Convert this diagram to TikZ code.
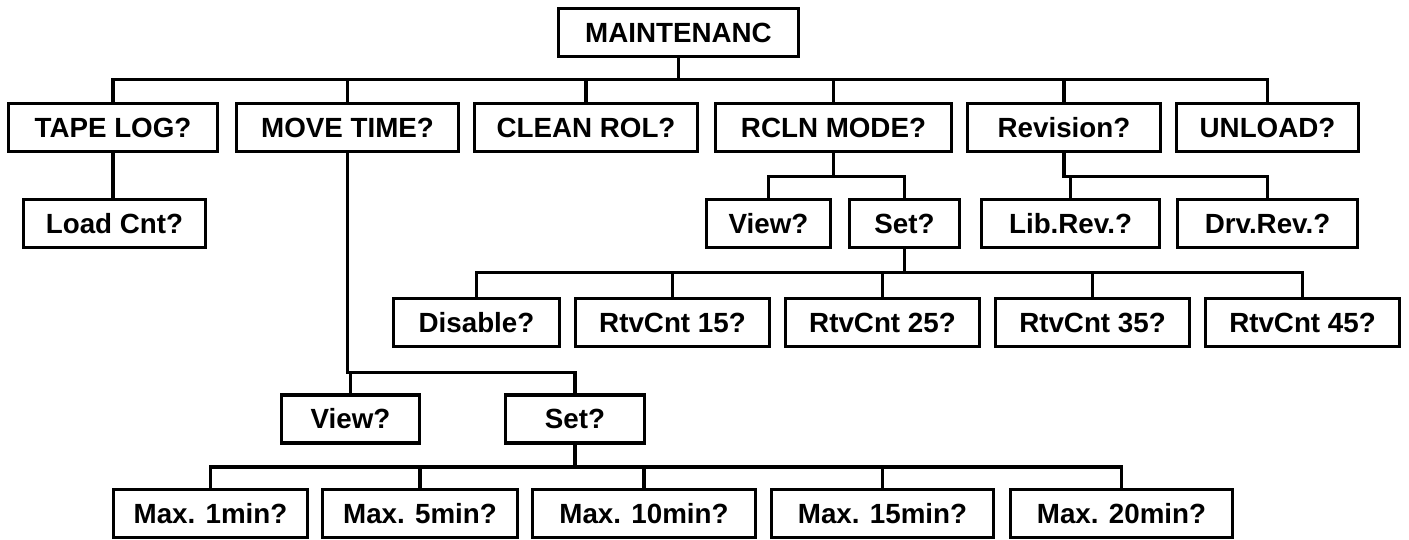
\documentclass[tikz,border=0pt]{standalone}
\usepackage{fontspec}
\setmainfont{Liberation Sans}
\usepackage{tikz}
\tikzset{menubox/.style={draw,line width=2.2pt,inner sep=0pt,text height=11.3pt,text depth=0pt,minimum height=48*0.02cm,minimum width=#1*0.02cm,font=\bfseries\fontsize{15.8}{18}\selectfont}}
\tikzset{link/.style={line width=1.9pt}}

\begin{document}
\begin{tikzpicture}[x=0.02cm,y=-0.02cm]
    \useasboundingbox (0,0) rectangle (1409,540);
    % top level
    \node[menubox=240] (main) at (678.5,32.5) {MAINTENANC};
    \node[menubox=209] (tape) at (113,127.5) {TAPE LOG?};
    \node[menubox=222] (move) at (347.5,127.5) {MOVE TIME?};
    \node[menubox=223] (clean) at (586,127.5) {CLEAN ROL?};
    \node[menubox=236] (rcln) at (833.5,127.5) {RCLN MODE?};
    \node[menubox=193] (rev) at (1064,127.5) {Revision?};
    \node[menubox=182] (unload) at (1267.5,127.5) {UNLOAD?};
    % second level
    \node[menubox=182] (load) at (114.5,223.5) {Load Cnt?};
    \node[menubox=124] (rview) at (768.5,223.5) {View?};
    \node[menubox=110] (rset) at (904.5,223.5) {Set?};
    \node[menubox=178] (lib) at (1070.5,223.5) {Lib.Rev.?};
    \node[menubox=180] (drv) at (1267.5,223.5) {Drv.Rev.?};
    % retry counts
    \node[menubox=166] (dis) at (476.5,322.5) {Disable?};
    \node[menubox=194] (rc15) at (672.5,322.5) {RtvCnt 15?};
    \node[menubox=194] (rc25) at (882.5,322.5) {RtvCnt 25?};
    \node[menubox=194] (rc35) at (1092.5,322.5) {RtvCnt 35?};
    \node[menubox=194] (rc45) at (1302.5,322.5) {RtvCnt 45?};
    % move time
    \node[menubox=138] (mview) at (350.5,419) {View?};
    \node[menubox=139] (mset) at (575,419) {Set?};
    \node[menubox=194] (m1) at (210.5,513.5) {Max. 1min?};
    \node[menubox=195] (m5) at (420,513.5) {Max. 5min?};
    \node[menubox=223] (m10) at (644,513.5) {Max. 10min?};
    \node[menubox=222] (m15) at (882.5,513.5) {Max. 15min?};
    \node[menubox=222] (m20) at (1121.5,513.5) {Max. 20min?};

    \foreach \c in {tape,move,clean,rcln,rev,unload} \draw[link] (main.south) -- ++(0,21) -| (\c.north);
    \draw[link] (tape.south) -- (tape.south |- load.north);
    \foreach \c in {rview,rset} \draw[link] (rcln.south) -- ++(0,23) -| (\c.north);
    \foreach \c in {lib,drv} \draw[link] (rev.south) -- ++(0,23) -| (\c.north);
    \foreach \c in {dis,rc15,rc25,rc35,rc45} \draw[link] (rset.south) -- ++(0,23) -| (\c.north);
    \foreach \c in {mview,mset} \draw[link] (move.south) -- ++(0,219) -| (\c.north);
    \foreach \c in {m1,m5,m10,m15,m20} \draw[link] (mset.south) -- ++(0,22) -| (\c.north);
  \end{tikzpicture}
\end{document}
